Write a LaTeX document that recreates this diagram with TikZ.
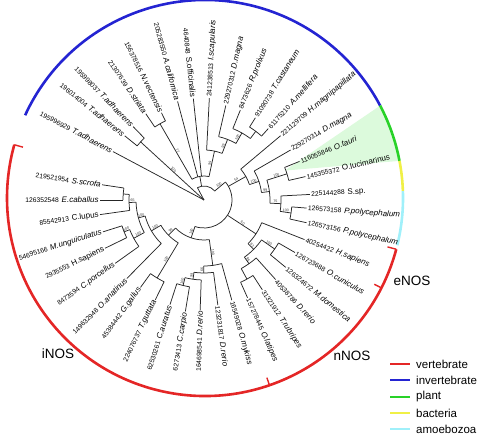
\documentclass[tikz,border=0pt]{standalone}
\usepackage{fontspec}
\usetikzlibrary{calc}
\setmainfont{Liberation Sans}
\definecolor{cRed}{RGB}{228,38,38}
\definecolor{cBlue}{RGB}{36,36,210}
\definecolor{cGreen}{RGB}{40,210,40}
\definecolor{cYellow}{RGB}{240,240,70}
\definecolor{cCyan}{RGB}{160,240,250}
\definecolor{cWedge}{RGB}{220,250,220}
\newcommand{\nm}[1]{{\fontsize{6.7}{7}\selectfont #1}}
\newcommand{\spn}[1]{{\fontsize{8}{9}\selectfont\itshape #1}}
\newcommand{\spu}[1]{{\fontsize{8}{9}\selectfont #1}}
\newcommand{\trad}[3]{\draw[br] (#1:#2pt) -- (#1:#3pt);}
\newcommand{\tarc}[3]{\draw[br] (#2:#1pt) arc[start angle=#2, end angle=#3, radius=#1pt];}
\newcommand{\lfR}[4]{\node[lab,anchor=west,rotate=#2] (#1) at (#2:#3pt) {#4};}
\newcommand{\lfL}[4]{\node[lab,anchor=east,rotate=#2+180] (#1) at (#2:#3pt) {#4};}
\newcommand{\bsR}[3]{\node[bs,anchor=south,rotate=#1] at (#1:#2pt) {#3};}
\newcommand{\bsL}[3]{\node[bs,anchor=south,rotate=#1+180] at (#1:#2pt) {#3};}
\tikzset{
  br/.style={line width=0.75pt, black!85},
  lab/.style={inner sep=1.2pt},
  bs/.style={inner sep=0.4pt, font=\fontsize{3.6}{4}\selectfont, text=black!80},
  ring/.style={line width=2.6pt},
  tick/.style={line width=1.4pt, cRed},
  leg/.style={line width=2.6pt},
  legt/.style={anchor=west, inner sep=0pt, font=\fontsize{11.5}{13}\selectfont},
  clade/.style={font=\fontsize{13.5}{15}\selectfont}
}
\begin{document}
\begin{tikzpicture}[x=1pt,y=1pt]
\useasboundingbox (0,0) rectangle (478,435);
% ---------- highlight wedge ----------
\coordinate (wtip) at ($(204,235)+(20:86pt)$);
\fill[cWedge] (wtip) -- ($(205,237)+(27.8:198pt)$) arc[start angle=27.8, end angle=10.8, radius=198pt] -- cycle;
% ---------- outer ring ----------
\begin{scope}[shift={(205,237)}]
  \draw[ring,cBlue] (155.3:198pt) arc[start angle=155.3, end angle=27.8, radius=198pt];
  \draw[ring,cGreen] (27.8:198pt) arc[start angle=27.8, end angle=10.8, radius=198pt];
  \draw[ring,cYellow] (10.8:198pt) arc[start angle=10.8, end angle=2, radius=198pt];
  \draw[ring,cCyan] (2:198pt) arc[start angle=2, end angle=-13.8, radius=198pt];
  \draw[ring,cRed] (-15:198pt) arc[start angle=-15, end angle=-195.6, radius=198pt];
  \draw[tick] (-15:198pt) -- (-15:189pt);
  \draw[tick] (-27:198pt) -- (-27:190pt);
  \draw[tick] (-71:198pt) -- (-71:190pt);
  \draw[tick] (164.4:198pt) -- (164.4:189pt);
\end{scope}
% ---------- tree ----------
\begin{scope}[shift={(204,235)}]
\trad{152}{0}{103}
\trad{137.5}{0}{86}
\tarc{86}{134}{141}
\trad{141}{86}{102}
\trad{134}{86}{102}
\trad{118}{0}{14}
\tarc{14}{40}{118}
\trad{100}{14}{24}
\tarc{24}{77.9}{120}
\trad{120}{24}{88}
\tarc{88}{116}{124}
\trad{124}{88}{104}
\trad{116}{88}{97}
\trad{105}{24}{102}
\trad{96}{24}{102}
\trad{77.9}{24}{50}
\tarc{50}{68.75}{87}
\trad{87}{50}{102}
\trad{68.75}{50}{65}
\tarc{65}{60.5}{77}
\trad{77}{65}{97}
\trad{60.5}{65}{77}
\tarc{77}{53}{68}
\trad{68}{77}{97}
\trad{53}{77}{86}
\tarc{86}{48}{58}
\trad{58}{86}{97}
\trad{48}{86}{96}
\trad{40}{14}{28}
\tarc{28}{-108.8}{40}
\trad{29.3}{28}{48}
\tarc{48}{18.7}{40}
\trad{40}{48}{100}
\trad{18.7}{48}{58}
\tarc{58}{7.4}{30}
\trad{30}{58}{100}
\trad{7.4}{58}{66}
\tarc{66}{-2.75}{17.5}
\trad{17.5}{66}{87}
\tarc{87}{13}{22}
\trad{22}{87}{103}
\trad{13}{87}{104}
\trad{-2.75}{66}{77}
\tarc{77}{-8.5}{3}
\trad{3}{77}{106}
\trad{-8.5}{77}{88}
\tarc{88}{-12.5}{-4.5}
\trad{-4.5}{88}{103}
\trad{-12.5}{88}{105}
\trad{-33.1}{28}{62}
\tarc{62}{-44.75}{-21.5}
\trad{-21.5}{62}{108}
\trad{-44.75}{62}{70}
\tarc{70}{-54.75}{-34.75}
\trad{-34.75}{70}{86}
\tarc{86}{-39.5}{-30}
\trad{-30}{86}{105}
\trad{-39.5}{86}{106}
\trad{-54.75}{70}{78}
\tarc{78}{-61.5}{-48}
\trad{-48}{78}{107}
\trad{-61.5}{78}{90}
\tarc{90}{-66}{-57}
\trad{-57}{90}{107}
\trad{-66}{90}{107}
\trad{-108.8}{28}{40}
\tarc{40}{-135.3}{-82.35}
\trad{-82.35}{40}{66}
\tarc{66}{-90.2}{-74.5}
\trad{-74.5}{66}{104}
\trad{-90.2}{66}{73}
\tarc{73}{-97.9}{-82.5}
\trad{-82.5}{73}{106}
\trad{-97.9}{73}{80}
\tarc{80}{-103.75}{-92}
\trad{-92}{80}{110}
\trad{-103.75}{80}{88}
\tarc{88}{-108}{-99.5}
\trad{-99.5}{88}{113}
\trad{-108}{88}{110}
\trad{-135.3}{40}{50}
\tarc{50}{-149.6}{-121}
\trad{-121}{50}{91}
\tarc{91}{-126}{-116}
\trad{-116}{91}{111}
\trad{-126}{91}{108}
\trad{-149.6}{50}{61}
\tarc{61}{-164.75}{-134.5}
\trad{-134.5}{61}{110}
\trad{-164.75}{61}{68}
\tarc{68}{-178.1}{-151.4}
\trad{-151.4}{68}{80}
\tarc{80}{-158.25}{-144.5}
\trad{-144.5}{80}{109}
\trad{-158.25}{80}{86}
\tarc{86}{-162.5}{-154}
\trad{-154}{86}{110}
\trad{-162.5}{86}{106}
\trad{-178.1}{68}{75}
\tarc{75}{-184.25}{-172}
\trad{-172}{75}{105}
\trad{-184.25}{75}{81}
\tarc{81}{-188.5}{-180}
\trad{-180}{81}{104}
\trad{-188.5}{81}{103}
% ---------- leaf labels ----------
\lfL{l1}{152}{103}{\nm{195996929} \spn{T.adhaerens}}
\lfL{l2}{141}{102}{\nm{196014004} \spn{T.adhaerens}}
\lfL{l3}{134}{102}{\nm{195998037} \spn{T.adhaerens}}
\lfL{l4}{124}{104}{\nm{21307639} \spn{D.striata}}
\lfL{l5}{116}{97}{\nm{156378516} \spn{N.vectensis}}
\lfL{l6}{105}{102}{\nm{205283550} \spn{A.californica}}
\lfL{l7}{96}{102}{\nm{4640848} \spu{S.officinalis}}
\lfR{l8}{87}{102}{\nm{241238513} \spn{I.scapularis}}
\lfR{l9}{77}{97}{\nm{229270312} \spn{D.magna}}
\lfR{l10}{68}{97}{\nm{8473626} \spn{R.prolixus}}
\lfR{l11}{58}{97}{\nm{91090738} \spn{T.castaneum}}
\lfR{l12}{48}{96}{\nm{61175210} \spn{A.mellifera}}
\lfR{l13}{40}{100}{\nm{221129709} \spn{H.magnipapillata}}
\lfR{l14}{30}{100}{\nm{229270314} \spn{D.magna}}
\lfR{l15}{22}{103}{\nm{116055846} \spn{O.tauri}}
\lfR{l16}{13}{104}{\nm{145355372} \spu{O.lucimarinus}}
\lfR{l17}{3}{106}{\nm{225144288} \spu{S.sp.}}
\lfR{l18}{-4.5}{103}{\nm{126573158} \spn{P.polycephalum}}
\lfR{l19}{-12.5}{105}{\nm{126573156} \spn{P.polycephalum}}
\lfR{l20}{-21.5}{108}{\nm{40254422} \spn{H.sapiens}}
\lfR{l21}{-30}{105}{\nm{126723688} \spn{O.cuniculus}}
\lfR{l22}{-39.5}{106}{\nm{126324672} \spn{M.domestica}}
\lfR{l23}{-48}{107}{\nm{40538786} \spn{D.rerio}}
\lfR{l24}{-57}{107}{\nm{31321912} \spn{T.rubripes}}
\lfR{l25}{-66}{107}{\nm{157278445} \spn{O.latipes}}
\lfR{l26}{-74.5}{104}{\nm{16549028} \spn{O.mykiss}}
\lfR{l27}{-82.5}{106}{\nm{123231817} \spn{D.rerio}}
\lfL{l28}{-92}{110}{\nm{164698541} \spn{D.rerio}}
\lfL{l29}{-99.5}{113}{\nm{6273413} \spn{C.carpio}}
\lfL{l30}{-108}{110}{\nm{62530261} \spn{C.auratus}}
\lfL{l31}{-116}{111}{\nm{224076737} \spn{T.guttata}}
\lfL{l32}{-126}{108}{\nm{45384442} \spn{G.gallus}}
\lfL{l33}{-134.5}{110}{\nm{149632948} \spn{O.anatinus}}
\lfL{l34}{-144.5}{109}{\nm{8473594} \spn{C.porcellus}}
\lfL{l35}{-154}{110}{\nm{2935553} \spu{H.sapiens}}
\lfL{l36}{-162.5}{106}{\nm{54695166} \spn{M.unguiculatus}}
\lfL{l37}{-172}{105}{\nm{85542913} \spu{C.lupus}}
\lfL{l38}{-180}{104}{\nm{126352548} \spn{E.caballus}}
\lfL{l39}{-188.5}{103}{\nm{219521954} \spn{S.scrofa}}
% ---------- bootstrap values ----------
\bsL{137.5}{43}{100}
\bsR{40}{21}{100}
\bsL{120}{56}{77}
\bsR{77.9}{37}{99}
\bsR{68.75}{57.5}{99}
\bsR{60.5}{71}{100}
\bsR{29.3}{38}{54}
\bsR{18.7}{53}{100}
\bsR{7.4}{62}{99}
\bsR{17.5}{76.5}{100}
\bsR{-2.75}{71.5}{75}
\bsR{-8.5}{82.5}{100}
\bsR{-33.1}{45}{60}
\bsR{-44.75}{66}{82}
\bsR{-34.75}{78}{100}
\bsR{-54.75}{74}{96}
\bsL{-108.8}{34}{100}
\bsR{-82.35}{53}{100}
\bsL{-90.2}{69.5}{66}
\bsL{-97.9}{76.5}{99}
\bsL{-103.75}{84}{100}
\bsL{-135.3}{45}{99}
\bsL{-121}{70.5}{100}
\bsL{-149.6}{55.5}{100}
\bsL{-164.75}{64.5}{100}
\bsL{-151.4}{74}{100}
\bsL{-158.25}{83}{100}
\bsL{-178.1}{71.5}{65}
\end{scope}
% ---------- clade names ----------
\node[clade] (enos) at (412,154) {eNOS};
\node[clade] (nnos) at (352,79) {nNOS};
\node[clade] (inos) at (58,81) {iNOS};
% ---------- legend ----------
\draw[leg,cRed] (390,71) -- (410,71);   \node[legt] (lg1) at (416,71) {vertebrate};
\draw[leg,cBlue] (390,55) -- (410,55);  \node[legt] (lg2) at (416,55) {invertebrate};
\draw[leg,cGreen] (390,38) -- (410,38); \node[legt] (lg3) at (416,38) {plant};
\draw[leg,cYellow] (390,22) -- (410,22);\node[legt] (lg4) at (416,22) {bacteria};
\draw[leg,cCyan] (390,6) -- (410,6);    \node[legt] (lg5) at (416,6) {amoebozoa};
\end{tikzpicture}
\end{document}
